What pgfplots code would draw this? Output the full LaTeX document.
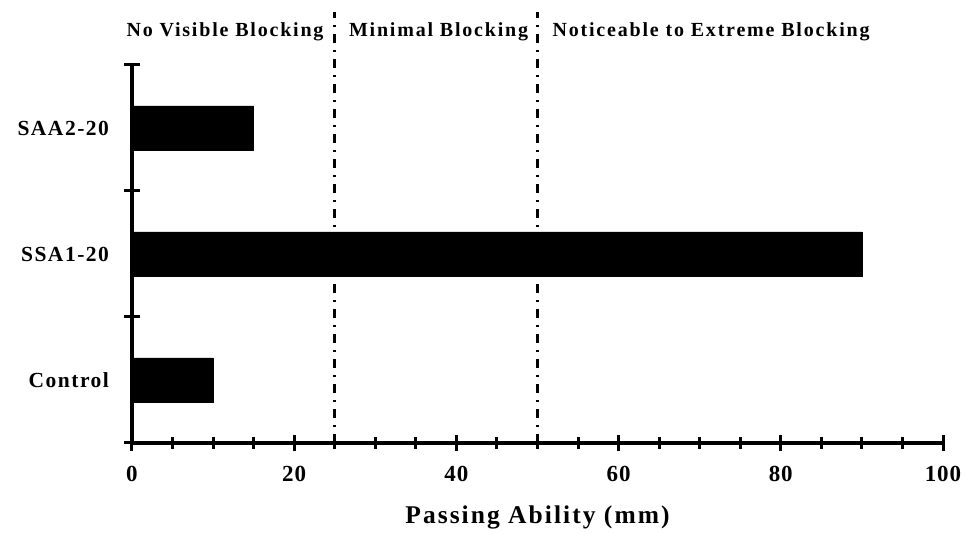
\documentclass[border=0pt]{standalone}
\usepackage{fontspec}
\setmainfont{Liberation Serif}
\usepackage{pgfplots}
\pgfplotsset{compat=1.18}
\begin{document}
\begin{tikzpicture}
\begin{axis}[
  scale only axis, width=811pt, height=378pt,
  xmin=0, xmax=100, ymin=0, ymax=3,
  axis lines=left,
  axis line style={-, line width=3.5pt, black},
  xtick={0,20,...,100}, minor xtick={5,10,...,95},
  ytick={0,1,2,3}, yticklabels={},
  extra y ticks={0.5,1.5,2.5},
  extra y tick labels={Control,SSA1-20,SAA2-20},
  extra y tick style={tick style={draw=none}},
  major tick length=15pt, minor tick length=11pt,
  tick style={line width=3pt, black},
  /pgf/number format/assume math mode=true,
  xticklabel style={font=\fontsize{23}{23}\selectfont\bfseries\addfontfeature{LetterSpace=4}, yshift=-12pt},
  yticklabel style={font=\fontsize{21.5}{21.5}\selectfont\bfseries\addfontfeature{LetterSpace=7}, xshift=-12pt},
  xlabel={Passing Ability (mm)},
  xlabel style={font=\fontsize{25.5}{25.5}\selectfont\bfseries\addfontfeature{LetterSpace=8},
    at={(axis description cs:0.5,0)}, anchor=base, yshift=-80pt},
  xbar, bar width=44pt,
  clip=false,
  xtick align=center, ytick align=center,
]
\addplot[fill=black, draw=black] coordinates {(10,0.5) (90,1.5) (15,2.5)};
\draw[line width=3pt, dash pattern=on 9pt off 7pt on 2pt off 7pt] (axis cs:25,0) -- (axis cs:25,3.42);
\draw[line width=3pt, dash pattern=on 9pt off 7pt on 2pt off 7pt] (axis cs:50,0) -- (axis cs:50,3.42);
\begin{scope}[every node/.style={font=\fontsize{20}{20}\selectfont\bfseries\addfontfeature{LetterSpace=9}, anchor=base, inner sep=0pt}]
\node at (axis cs:11.47,3.23) {No Visible Blocking};
\node at (axis cs:37.8,3.23) {Minimal Blocking};
\node at (axis cs:71.4,3.23) {Noticeable to Extreme Blocking};
\end{scope}
\end{axis}
\pgfresetboundingbox
\path[use as bounding box] ([shift={(-132pt,-91pt)}]current axis.south west) rectangle ([shift={(22pt,65pt)}]current axis.north east);
\end{tikzpicture}
\end{document}
